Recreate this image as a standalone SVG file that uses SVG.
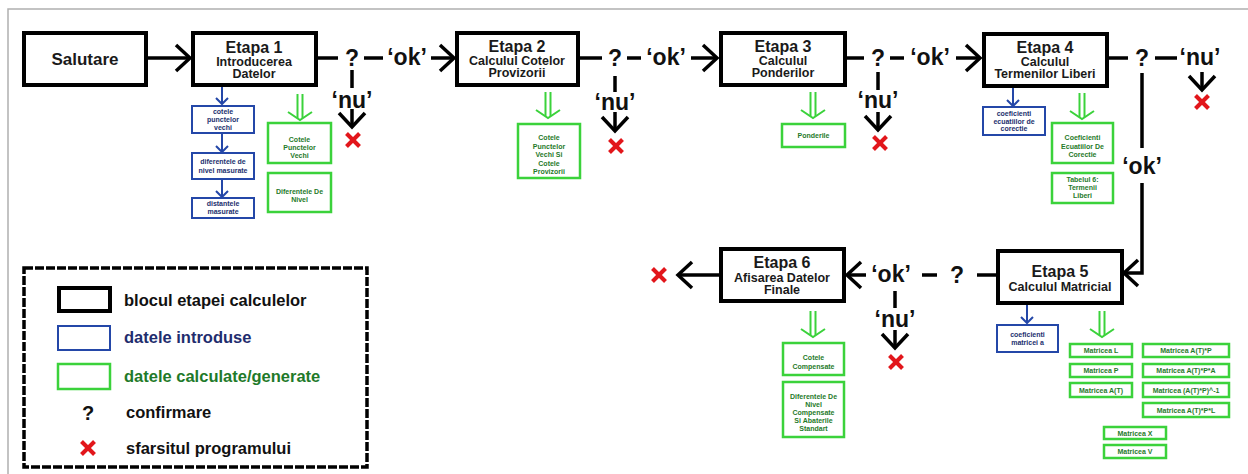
<svg xmlns="http://www.w3.org/2000/svg" xmlns:xlink="http://www.w3.org/1999/xlink" width="1248" height="474" viewBox="0 0 1248 474">
<style>
text{font-family:"Liberation Sans",Arial,sans-serif;font-weight:bold;text-anchor:middle}
.blk{fill:#fff;stroke:#000;stroke-width:4}
.bl{fill:#fff;stroke:#2447a8;stroke-width:2}
.gr{fill:#fff;stroke:#3bd23b;stroke-width:2.5}
.t1{font-size:16px;fill:#1a1a1a}
.t2{font-size:12.5px;fill:#1a1a1a}
.t0{font-size:17px;fill:#1a1a1a}
.big{font-size:23px;fill:#111}
.sb{font-size:7px;fill:#22306e}
.sg{font-size:7px;fill:#1f7a2a}
.lg{font-size:16.5px;text-anchor:start;fill:#111}
.ln{stroke:#000;stroke-width:3.5;fill:none}
.lb{stroke:#2447a8;stroke-width:2;fill:none}
.lgr{stroke:#3bd23b;stroke-width:2;fill:none}
.rx{stroke:#e2161b;stroke-width:4;fill:none}
</style>
<defs>
<marker id="ah" viewBox="-18 -16 20 32" refX="0" refY="0" markerWidth="20" markerHeight="32" markerUnits="userSpaceOnUse" orient="auto" overflow="visible">
<path d="M-14,-13 L0,0 L-14,13" fill="none" stroke="#000" stroke-width="3.5"/>
</marker>
<marker id="ahb" viewBox="-8 -8 10 16" refX="0" refY="0" markerWidth="10" markerHeight="16" markerUnits="userSpaceOnUse" orient="auto" overflow="visible">
<path d="M-6,-6 L0,0 L-6,6" fill="none" stroke="#2447a8" stroke-width="2"/>
</marker>
<g id="dbl">
<line x1="-2.5" y1="0" x2="-2.5" y2="24" class="lgr"/>
<line x1="2.5" y1="0" x2="2.5" y2="24" class="lgr"/>
<path d="M-12,18 L0,26 L12,18" class="lgr"/>
</g>
<g id="rxs">
<line x1="-6.5" y1="-6.5" x2="6.5" y2="6.5" class="rx"/>
<line x1="-6.5" y1="6.5" x2="6.5" y2="-6.5" class="rx"/>
</g>
</defs>
<rect width="1248" height="474" fill="#fff"/>
<path d="M8,474 V9 H1248" fill="none" stroke="#b0b0b0" stroke-width="1.5"/>

<g id="connectors">
<line x1="147" y1="58" x2="190" y2="58" class="ln" marker-end="url(#ah)"/>
<line x1="317" y1="58" x2="338" y2="58" class="ln"/>
<text x="352" y="66" class="big">?</text>
<line x1="364" y1="58" x2="383" y2="58" class="ln"/>
<text x="407" y="65" class="big">‘ok’</text>
<line x1="431" y1="58" x2="454" y2="58" class="ln" marker-end="url(#ah)"/>
<line x1="352" y1="70" x2="352" y2="88" class="ln"/>
<text x="352" y="108" class="big">‘nu’</text>
<line x1="352" y1="109" x2="352" y2="127" class="ln" marker-end="url(#ah)"/>
<use xlink:href="#rxs" x="353" y="140"/>
<line x1="578" y1="58" x2="602" y2="58" class="ln"/>
<text x="615" y="66" class="big">?</text>
<line x1="627" y1="58" x2="641" y2="58" class="ln"/>
<text x="666" y="65" class="big">‘ok’</text>
<line x1="691" y1="58" x2="717" y2="58" class="ln" marker-end="url(#ah)"/>
<line x1="615" y1="76" x2="615" y2="92" class="ln"/>
<text x="615" y="110" class="big">‘nu’</text>
<line x1="615" y1="112" x2="615" y2="131" class="ln" marker-end="url(#ah)"/>
<use xlink:href="#rxs" x="616" y="146"/>
<line x1="845" y1="58" x2="864" y2="58" class="ln"/>
<text x="878" y="66" class="big">?</text>
<line x1="890" y1="58" x2="904" y2="58" class="ln"/>
<text x="930" y="65" class="big">‘ok’</text>
<line x1="956" y1="58" x2="980" y2="58" class="ln" marker-end="url(#ah)"/>
<line x1="878" y1="72" x2="878" y2="90" class="ln"/>
<text x="878" y="108" class="big">‘nu’</text>
<line x1="878" y1="112" x2="878" y2="130" class="ln" marker-end="url(#ah)"/>
<use xlink:href="#rxs" x="880" y="143"/>
<line x1="1107" y1="58" x2="1128" y2="58" class="ln"/>
<text x="1142" y="66" class="big">?</text>
<line x1="1155" y1="58" x2="1177" y2="58" class="ln"/>
<text x="1200" y="65" class="big">‘nu’</text>
<line x1="1202" y1="72" x2="1202" y2="90" class="ln" marker-end="url(#ah)"/>
<use xlink:href="#rxs" x="1202" y="102"/>
<line x1="1142" y1="73" x2="1142" y2="148" class="ln"/>
<text x="1142" y="174" class="big">‘ok’</text>
<path d="M1142,183 V273 H1124" class="ln" marker-end="url(#ah)"/>
<line x1="997" y1="275" x2="977" y2="275" class="ln"/>
<text x="957" y="283" class="big">?</text>
<line x1="937" y1="275" x2="922" y2="275" class="ln"/>
<text x="891" y="282" class="big">‘ok’</text>
<line x1="866" y1="275" x2="847" y2="275" class="ln" marker-end="url(#ah)"/>
<line x1="895" y1="291" x2="895" y2="308" class="ln"/>
<text x="895" y="327" class="big">‘nu’</text>
<line x1="895" y1="330" x2="895" y2="348" class="ln" marker-end="url(#ah)"/>
<use xlink:href="#rxs" x="896" y="362"/>
<line x1="720" y1="275" x2="678" y2="275" class="ln" marker-end="url(#ah)"/>
<use xlink:href="#rxs" x="659" y="275"/>
<line x1="222" y1="86" x2="222" y2="104" class="lb" marker-end="url(#ahb)"/>
<line x1="222" y1="133" x2="222" y2="152" class="lb" marker-end="url(#ahb)"/>
<line x1="222" y1="179" x2="222" y2="197" class="lb" marker-end="url(#ahb)"/>
<line x1="1013" y1="87" x2="1013" y2="106" class="lb" marker-end="url(#ahb)"/>
<line x1="1027" y1="304" x2="1027" y2="323" class="lb" marker-end="url(#ahb)"/>
<use xlink:href="#dbl" x="300" y="94"/>
<use xlink:href="#dbl" x="548" y="92"/>
<use xlink:href="#dbl" x="813" y="92"/>
<use xlink:href="#dbl" x="1082" y="93"/>
<use xlink:href="#dbl" x="1102" y="311"/>
<use xlink:href="#dbl" x="813" y="311"/>
</g>

<g id="salutare">
<rect x="24" y="33" width="122" height="52" class="blk"/>
<text x="85" y="65" class="t0">Salutare</text>
</g>

<g id="etapa1">
<rect x="193" y="33" width="123" height="52" class="blk"/>
<text x="254" y="53" class="t1">Etapa 1</text>
<text x="254" y="66" class="t2">Introducerea</text>
<text x="254" y="78" class="t2">Datelor</text>
</g>
<g id="e1-in1"><rect x="192" y="106" width="62" height="27" class="bl"/>
<text x="223" y="114" class="sb">cotele</text><text x="223" y="122" class="sb">punctelor</text><text x="223" y="130" class="sb">vechi</text></g>
<g id="e1-in2"><rect x="192" y="153" width="62" height="26" class="bl"/>
<text x="223" y="164" class="sb">diferentele de</text><text x="223" y="173" class="sb">nivel masurate</text></g>
<g id="e1-in3"><rect x="192" y="198" width="62" height="20" class="bl"/>
<text x="223" y="206" class="sb">distantele</text><text x="223" y="214" class="sb">masurate</text></g>
<g id="e1-out1"><rect x="268" y="123" width="63" height="40" class="gr"/>
<text x="299.5" y="142" class="sg">Cotele</text><text x="299.5" y="150" class="sg">Punctelor</text><text x="299.5" y="158" class="sg">Vechi</text></g>
<g id="e1-out2"><rect x="268" y="173" width="63" height="39" class="gr"/>
<text x="299.5" y="194" class="sg">Diferentele De</text><text x="299.5" y="202" class="sg">Nivel</text></g>

<g id="etapa2">
<rect x="457" y="33" width="121" height="52" class="blk"/>
<text x="517" y="52" class="t1">Etapa 2</text>
<text x="517" y="65" class="t2">Calculul Cotelor</text>
<text x="517" y="77" class="t2">Provizorii</text>
</g>
<g id="e2-out1"><rect x="518" y="124" width="62" height="54" class="gr"/>
<text x="549" y="140" class="sg">Cotele</text><text x="549" y="149" class="sg">Punctelor</text><text x="549" y="157" class="sg">Vechi Si</text><text x="549" y="166" class="sg">Cotele</text><text x="549" y="174" class="sg">Provizorii</text></g>

<g id="etapa3">
<rect x="721" y="33" width="124" height="52" class="blk"/>
<text x="783" y="52" class="t1">Etapa 3</text>
<text x="783" y="65" class="t2">Calculul</text>
<text x="783" y="77" class="t2">Ponderilor</text>
</g>
<g id="e3-out1"><rect x="782" y="124" width="63" height="23" class="gr"/>
<text x="813.5" y="138" class="sg">Ponderile</text></g>

<g id="etapa4">
<rect x="984" y="34" width="123" height="52" class="blk"/>
<text x="1045" y="53" class="t1">Etapa 4</text>
<text x="1045" y="66" class="t2">Calculul</text>
<text x="1045" y="78" class="t2">Termenilor Liberi</text>
</g>
<g id="e4-in1"><rect x="983" y="107" width="62" height="28" class="bl"/>
<text x="1014" y="116" class="sb">coeficienti</text><text x="1014" y="123.5" class="sb">ecuatiilor de</text><text x="1014" y="131" class="sb">corectie</text></g>
<g id="e4-out1"><rect x="1052" y="123" width="61" height="40" class="gr"/>
<text x="1082.5" y="140" class="sg">Coeficienti</text><text x="1082.5" y="149" class="sg">Ecuatiilor De</text><text x="1082.5" y="157" class="sg">Corectie</text></g>
<g id="e4-out2"><rect x="1052" y="173" width="61" height="30" class="gr"/>
<text x="1082.5" y="182" class="sg">Tabelul 6:</text><text x="1082.5" y="190" class="sg">Termenii</text><text x="1082.5" y="198" class="sg">Liberi</text></g>

<g id="etapa5">
<rect x="998" y="251" width="124" height="52" class="blk"/>
<text x="1060" y="277" class="t1">Etapa 5</text>
<text x="1060" y="291" class="t2">Calculul Matricial</text>
</g>
<g id="e5-in1"><rect x="997" y="325" width="61" height="27" class="bl"/>
<text x="1027.5" y="337" class="sb">coeficienti</text><text x="1027.5" y="345" class="sb">matricei a</text></g>
<g id="e5-out1"><rect x="1070" y="344" width="62" height="13" class="gr"/><text x="1101" y="353" class="sg">Matricea L</text></g>
<g id="e5-out2"><rect x="1070" y="364" width="62" height="13" class="gr"/><text x="1101" y="373" class="sg">Matricea P</text></g>
<g id="e5-out3"><rect x="1070" y="383" width="62" height="14" class="gr"/><text x="1101" y="392.5" class="sg">Matricea A(T)</text></g>
<g id="e5-out4"><rect x="1143" y="344" width="86" height="13" class="gr"/><text x="1186" y="353" class="sg">Matricea A(T)*P</text></g>
<g id="e5-out5"><rect x="1143" y="364" width="86" height="13" class="gr"/><text x="1186" y="373" class="sg">Matricea A(T)*P*A</text></g>
<g id="e5-out6"><rect x="1143" y="383" width="86" height="14" class="gr"/><text x="1186" y="392.5" class="sg">Matricea (A(T)*P)^-1</text></g>
<g id="e5-out7"><rect x="1143" y="403" width="86" height="14" class="gr"/><text x="1186" y="412.5" class="sg">Matricea A(T)*P*L</text></g>
<g id="e5-out8"><rect x="1104" y="427" width="62" height="12" class="gr"/><text x="1135" y="435.5" class="sg">Matricea X</text></g>
<g id="e5-out9"><rect x="1104" y="445" width="62" height="13" class="gr"/><text x="1135" y="454" class="sg">Matricea V</text></g>

<g id="etapa6">
<rect x="721" y="249" width="123" height="52" class="blk"/>
<text x="782" y="268" class="t1">Etapa 6</text>
<text x="782" y="282" class="t2">Afisarea Datelor</text>
<text x="782" y="294" class="t2">Finale</text>
</g>
<g id="e6-out1"><rect x="783" y="343" width="61" height="32" class="gr"/>
<text x="813.5" y="360" class="sg">Cotele</text><text x="813.5" y="369" class="sg">Compensate</text></g>
<g id="e6-out2"><rect x="783" y="382" width="61" height="55" class="gr"/>
<text x="813.5" y="399" class="sg">Diferentele De</text><text x="813.5" y="407" class="sg">Nivel</text><text x="813.5" y="415" class="sg">Compensate</text><text x="813.5" y="423" class="sg">Si Abaterile</text><text x="813.5" y="431" class="sg">Standart</text></g>

<g id="legend">
<rect x="24" y="268" width="343" height="199" fill="#fff" stroke="#000" stroke-width="3.5" stroke-dasharray="9 2"/>
<rect x="59" y="288" width="51" height="23" class="blk"/>
<text x="124" y="306" class="lg">blocul etapei calculelor</text>
<rect x="58" y="326" width="52" height="24" class="bl"/>
<text x="124" y="343" class="lg" style="fill:#1f2d6e">datele introduse</text>
<rect x="58" y="364" width="52" height="25" class="gr"/>
<text x="124" y="382" class="lg" style="fill:#1f7a2a">datele calculate/generate</text>
<text x="88" y="420" class="big" style="font-size:20px">?</text>
<text x="126" y="418" class="lg">confirmare</text>
<use xlink:href="#rxs" x="88" y="448"/>
<text x="126" y="454" class="lg">sfarsitul programului</text>
</g>
</svg>
